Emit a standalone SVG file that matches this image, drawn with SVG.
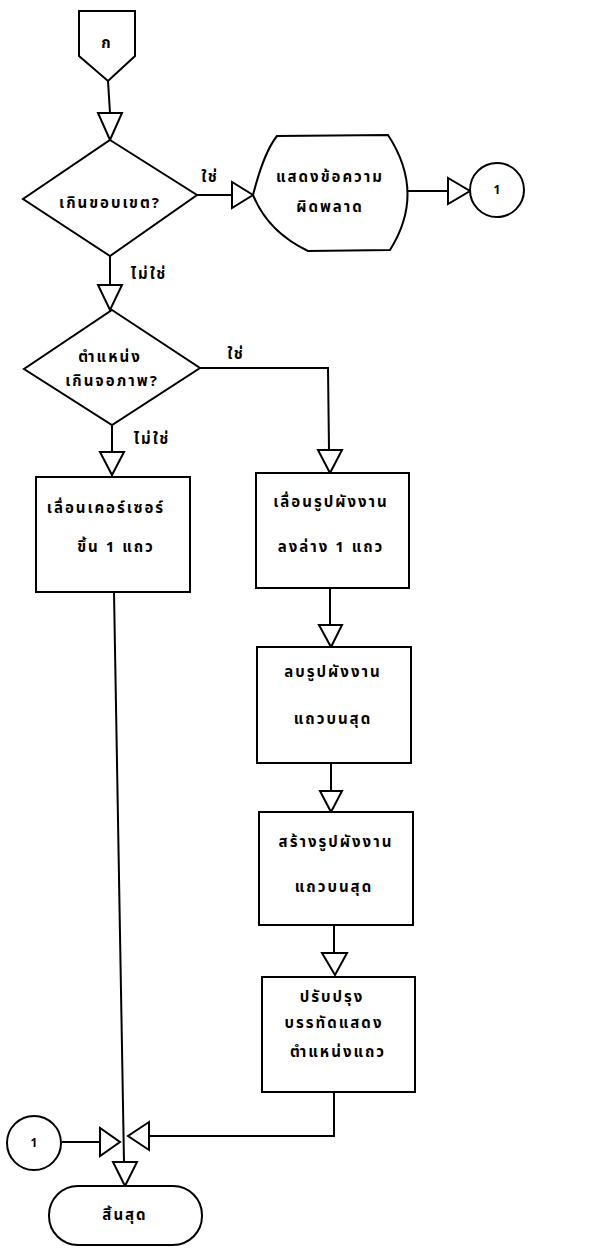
<svg xmlns="http://www.w3.org/2000/svg" width="599" height="1248" viewBox="0 0 599 1248">
<style>
.s{fill:#fff;stroke:#000;stroke-width:2}
.ln{fill:none;stroke:#000;stroke-width:2}
.arr{fill:#fff;stroke:#000;stroke-width:2;stroke-linejoin:miter}
text{font-family:"Noto Sans Thai","Tlwg Typo","Loma","Garuda","DejaVu Sans",sans-serif;font-weight:bold;font-size:15px;fill:#000;text-anchor:middle;letter-spacing:2px}
.sm{font-size:12px;letter-spacing:0}
</style>
<rect width="599" height="1248" fill="#fff"/>
<g id="connectors">
<line class="ln" x1="108" y1="81" x2="110" y2="113"/>
<polygon class="arr" points="98,113 122,113 110,140"/>
<line class="ln" x1="197" y1="195" x2="232" y2="195"/>
<polygon class="arr" points="232,182 232,208 253,195"/>
<line class="ln" x1="407" y1="191" x2="448" y2="191"/>
<polygon class="arr" points="448,178 448,204 470,191"/>
<line class="ln" x1="110" y1="256" x2="110" y2="285"/>
<polygon class="arr" points="98,285 122,285 110,310"/>
<polyline class="ln" points="200,368 328,368 329,450"/>
<polygon class="arr" points="318,450 342,450 330,473"/>
<line class="ln" x1="112" y1="425" x2="112" y2="452"/>
<polygon class="arr" points="100,452 124,452 112,475"/>
<line class="ln" x1="330" y1="588" x2="330" y2="625"/>
<polygon class="arr" points="319,625 342,625 331,647"/>
<line class="ln" x1="331" y1="763" x2="331" y2="791"/>
<polygon class="arr" points="320,791 342,791 331,812"/>
<line class="ln" x1="334" y1="925" x2="334" y2="953"/>
<polygon class="arr" points="322,953 347,953 335,975"/>
<polyline class="ln" points="334,1092 334,1136 149,1136"/>
<polygon class="arr" points="149,1122 149,1150 128,1136"/>
<line class="ln" x1="62" y1="1142" x2="100" y2="1142"/>
<polygon class="arr" points="100,1128 100,1156 120,1142"/>
<line class="ln" x1="114" y1="592" x2="124" y2="1162"/>
<polygon class="arr" points="113,1162 137,1162 125,1186"/>
</g>
<g id="start">
<path class="s" d="M79,11 L135,11 L135,56 L108,81 L79,56 Z"/>
<text x="107" y="48">ก</text>
</g>
<g id="decision1">
<polygon class="s" points="110,140 197,195 110,256 23,199"/>
<text x="110" y="208">เกินขอบเขต?</text>
</g>
<g id="label-yes1"><text x="210" y="182">ใช่</text></g>
<g id="label-no1"><text x="149" y="279">ไม่ใช่</text></g>
<g id="display">
<path class="s" d="M253,195 Q264,152 277,136 L388,135 Q426,193 390,250 L308,251 Q268,232 253,195 Z"/>
<text x="330" y="182">แสดงข้อความ</text>
<text x="330" y="212">ผิดพลาด</text>
</g>
<g id="conn1-top">
<circle class="s" cx="497" cy="190" r="27"/>
<text class="sm" x="497" y="194">1</text>
</g>
<g id="decision2">
<polygon class="s" points="112,310 200,368 112,425 24,369"/>
<text x="110" y="362">ตำแหน่ง</text>
<text x="112" y="386">เกินจอภาพ?</text>
</g>
<g id="label-yes2"><text x="236" y="359">ใช่</text></g>
<g id="label-no2"><text x="152" y="444">ไม่ใช่</text></g>
<g id="box1">
<rect class="s" x="36" y="477" width="154" height="115"/>
<text x="106" y="513">เลื่อนเคอร์เซอร์</text>
<text x="116" y="552">ขึ้น 1 แถว</text>
</g>
<g id="box2">
<rect class="s" x="256" y="473" width="153" height="115"/>
<text x="331" y="507">เลื่อนรูปผังงาน</text>
<text x="331" y="552">ลงล่าง 1 แถว</text>
</g>
<g id="box3">
<rect class="s" x="257" y="647" width="154" height="116"/>
<text x="333" y="677">ลบรูปผังงาน</text>
<text x="333" y="724">แถวบนสุด</text>
</g>
<g id="box4">
<rect class="s" x="259" y="812" width="154" height="113"/>
<text x="336" y="847">สร้างรูปผังงาน</text>
<text x="334" y="892">แถวบนสุด</text>
</g>
<g id="box5">
<rect class="s" x="262" y="977" width="153" height="115"/>
<text x="332" y="1002">ปรับปรุง</text>
<text x="334" y="1028">บรรทัดแสดง</text>
<text x="338" y="1057">ตำแหน่งแถว</text>
</g>
<g id="conn1-bottom">
<circle class="s" cx="34" cy="1143" r="27"/>
<text class="sm" x="34" y="1147">1</text>
</g>
<g id="end">
<rect class="s" x="49" y="1186" width="153" height="59" rx="29" ry="29"/>
<text x="125" y="1220">สิ้นสุด</text>
</g>
</svg>
